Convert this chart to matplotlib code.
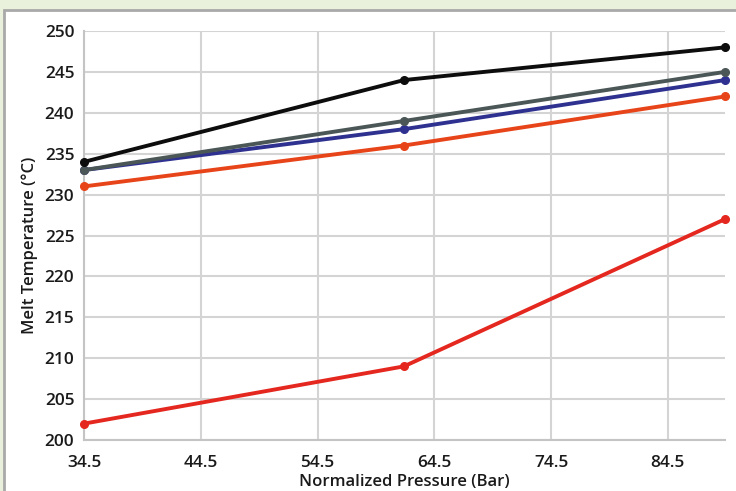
import matplotlib.pyplot as plt
from matplotlib.patches import Rectangle

# pressure (bar) and melt temperature series
pressure = [34.5, 61.9, 89.4]
temp_black = [234, 244, 248]
temp_gray = [233, 239, 245]
temp_blue = [233, 238, 244]
temp_orange = [231, 236, 242]
temp_red = [202, 209, 227]

xticks = [34.5, 44.5, 54.5, 64.5, 74.5, 84.5]
yticks = list(range(200, 251, 5))

plt.rcParams['font.family'] = ['Open Sans', 'DejaVu Sans']

fig = plt.figure(figsize=(7.36, 4.91), dpi=100)
fig.patch.set_facecolor('#e9f0dc')

# white panel with gray border behind the chart
panel = Rectangle((4 / 736, -0.05), 1.0, 1 - 10 / 491 + 0.05,
                  transform=fig.transFigure, facecolor='white',
                  edgecolor='#a9a9a9', linewidth=2.0, zorder=0)
fig.patches.append(panel)

ax = fig.add_axes([84 / 736, 1 - 440 / 491, (725 - 84) / 736, (440 - 31) / 491])
ax.set_facecolor('white')
ax.set_zorder(1)

series = [
    (temp_red, '#e5281f'),
    (temp_orange, '#e8441a'),
    (temp_blue, '#2e3190'),
    (temp_gray, '#4b5656'),
    (temp_black, '#0d0d0d'),
]
for ys, c in series:
    ax.plot(pressure, ys, color=c, lw=2.8, marker='o', ms=5.5,
            solid_capstyle='round', clip_on=False, zorder=3)

ax.set_xlim(34.5, 89.4)
ax.set_ylim(200, 250)
ax.set_xticks(xticks)
ax.set_xticklabels([f'{v}' for v in xticks])
ax.set_yticks(yticks)

ax.grid(True, color='#d4d4d4', lw=1.5)
ax.set_axisbelow(True)
for s in ['top', 'right']:
    ax.spines[s].set_visible(False)
for s in ['left', 'bottom']:
    ax.spines[s].set_color('#c4c4c4')
    ax.spines[s].set_linewidth(1.5)

ax.tick_params(length=0, labelsize=12.4, colors='#1a1a1a')
ax.tick_params(axis='y', pad=7)
ax.tick_params(axis='x', pad=11)
for lab in ax.get_xticklabels() + ax.get_yticklabels():
    lab.set_fontweight('semibold')

ax.set_xlabel('Normalized Pressure (Bar)', fontsize=12, fontweight='semibold',
              color='#1a1a1a', labelpad=2)
ax.set_ylabel('Melt Temperature (°C)', fontsize=12, fontweight='semibold',
              color='#1a1a1a')
ax.yaxis.set_label_coords(-0.072, 0.477)

fig.savefig('out.png', dpi=100, facecolor=fig.get_facecolor())
